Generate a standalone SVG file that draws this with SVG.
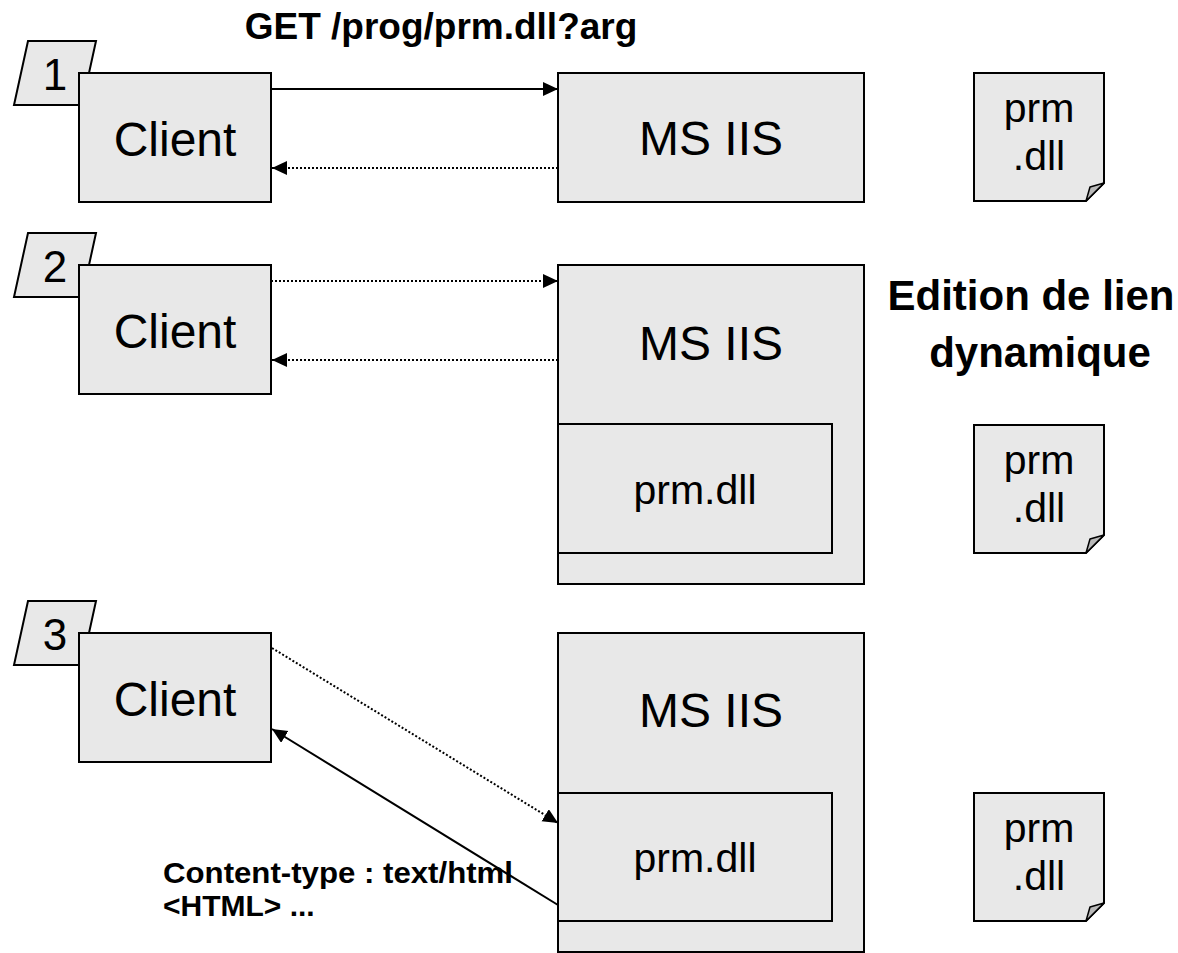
<svg xmlns="http://www.w3.org/2000/svg" width="1178" height="953" viewBox="0 0 1178 953">
<style>
.box{fill:#e8e8e8;stroke:#000;stroke-width:2}
.fold{fill:#b8b8b8;stroke:#000;stroke-width:1.5;stroke-linejoin:round}
.t{font-family:"Liberation Sans",Arial,sans-serif;fill:#000}
.big{font-size:48px;text-anchor:middle}
.mid{font-size:41px;text-anchor:middle}
.num{font-size:44px;text-anchor:middle}
.b{font-weight:bold}
.ln{stroke:#000;stroke-width:2;fill:none}
.dot{stroke:#000;stroke-width:2;fill:none;stroke-dasharray:2 2}
</style>
<defs>
<marker id="ah" markerUnits="userSpaceOnUse" markerWidth="16" markerHeight="16" refX="15" refY="7" orient="auto">
<path d="M0,0 L15,7 L0,14 Z" fill="#000"/>
</marker>
<g id="doc">
<path class="box" d="M0,0 H130 V110 L112,128 H0 Z"/>
<path class="fold" d="M112,128 L130,110 L116,114 Z"/>
<text class="t mid" x="65" y="49">prm</text>
<text class="t mid" x="65" y="97">.dll</text>
</g>
</defs>

<!-- Section 1 -->
<g id="tag1"><polygon class="box" points="28,41 96,41 82,105 14,105"/><text class="t num" x="55" y="90">1</text></g>
<g id="client1"><rect class="box" x="79" y="73" width="192" height="129"/><text class="t big" x="175" y="156">Client</text></g>
<g id="iis1"><rect class="box" x="558" y="73" width="306" height="129"/><text class="t big" x="711" y="155">MS IIS</text></g>
<g id="doc1"><use href="#doc" x="974" y="73"/></g>
<g id="label-get"><text class="t b" x="441" y="39" font-size="37" text-anchor="middle">GET /prog/prm.dll?arg</text></g>

<!-- Section 2 -->
<g id="tag2"><polygon class="box" points="28,233 96,233 82,297 14,297"/><text class="t num" x="55" y="282">2</text></g>
<g id="client2"><rect class="box" x="79" y="265" width="192" height="129"/><text class="t big" x="175" y="348">Client</text></g>
<g id="iis2"><rect class="box" x="558" y="265" width="306" height="319"/><text class="t big" x="711" y="360">MS IIS</text></g>
<g id="dll2"><rect class="box" x="558" y="424" width="274" height="129"/><text class="t mid" x="695" y="504">prm.dll</text></g>
<g id="doc2"><use href="#doc" x="974" y="425"/></g>
<g id="label-edition"><text class="t b" x="1031" y="310" font-size="42" text-anchor="middle">Edition de lien</text><text class="t b" x="1040" y="367" font-size="42" text-anchor="middle">dynamique</text></g>

<!-- Section 3 -->
<g id="tag3"><polygon class="box" points="28,601 96,601 82,665 14,665"/><text class="t num" x="55" y="650">3</text></g>
<g id="client3"><rect class="box" x="79" y="633" width="192" height="129"/><text class="t big" x="175" y="716">Client</text></g>
<g id="iis3"><rect class="box" x="558" y="633" width="306" height="319"/><text class="t big" x="711" y="727">MS IIS</text></g>
<g id="dll3"><rect class="box" x="558" y="793" width="274" height="128"/><text class="t mid" x="695" y="872">prm.dll</text></g>
<g id="doc3"><use href="#doc" x="974" y="793"/></g>
<g id="label-content"><text class="t b" x="163" y="883" font-size="30" textLength="350" lengthAdjust="spacingAndGlyphs">Content-type : text/html</text><text class="t b" x="163" y="916" font-size="30">&lt;HTML&gt; ...</text></g>

<g id="connectors">
<line class="ln" x1="271" y1="89" x2="558" y2="89" marker-end="url(#ah)"/>
<line class="dot" x1="558" y1="168" x2="272" y2="168" marker-end="url(#ah)"/>
<line class="dot" x1="271" y1="281" x2="558" y2="281" marker-end="url(#ah)"/>
<line class="dot" x1="558" y1="360" x2="272" y2="360" marker-end="url(#ah)"/>
<line class="dot" x1="272" y1="648" x2="558" y2="823" marker-end="url(#ah)"/>
<line class="ln" x1="558" y1="905" x2="272" y2="729" marker-end="url(#ah)"/>
</g>
</svg>
